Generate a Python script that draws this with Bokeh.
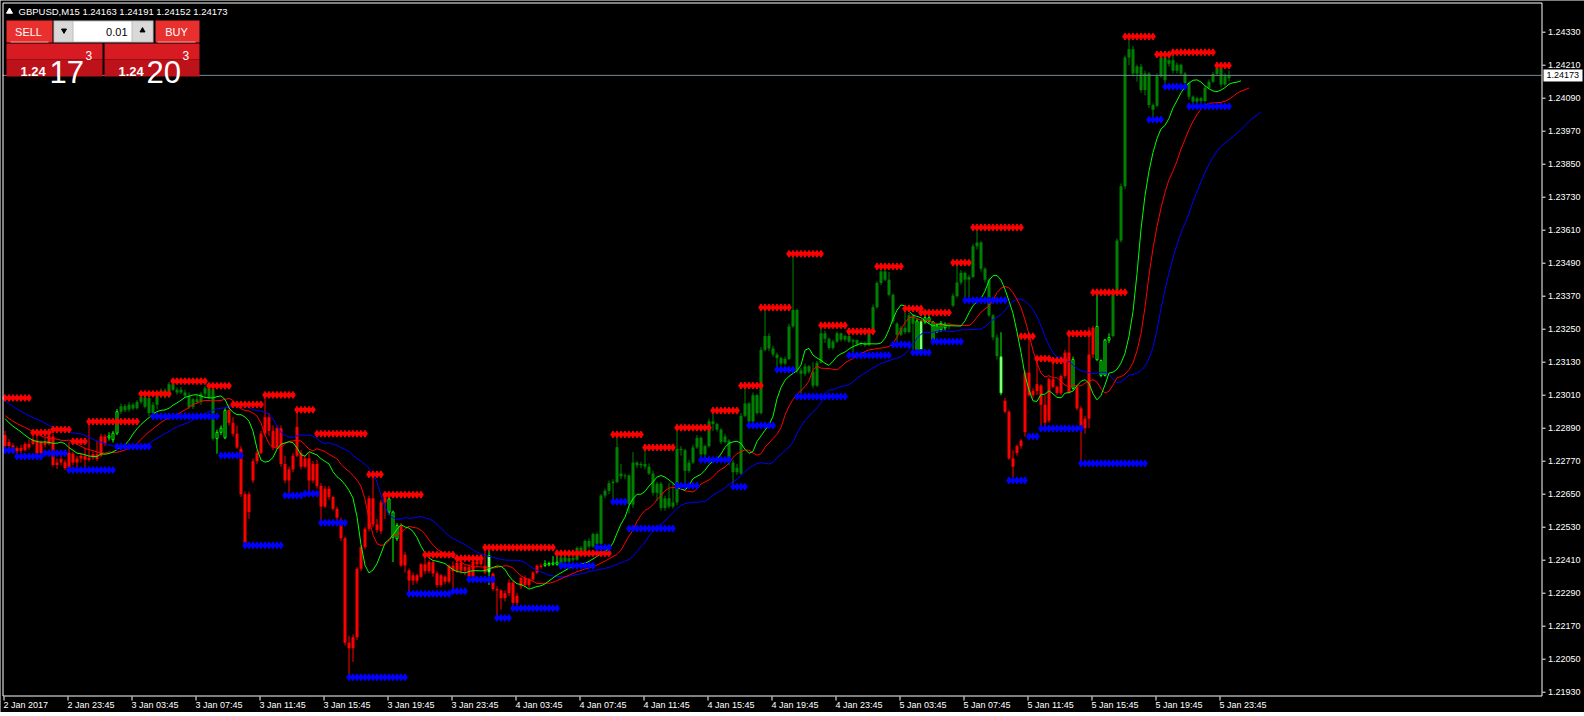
from bokeh.plotting import figure
from bokeh.models import Range1d, Label
from bokeh.core.properties import value
from bokeh.embed import file_html
from bokeh.resources import INLINE

# ---------------- data (prices in points above 1.20000) ----------------
BASE = 1.2
PT = 1e-5

opens = [
    2865, 2825, 2827, 2806, 2818, 2811, 2833, 2833, 2845, 2800,
    2839, 2833, 2860, 2756, 2765, 2766, 2745, 2797, 2765, 2780,
    2790, 2775, 2783, 2795, 2790, 2860, 2855, 2848, 2872, 2950,
    2970, 2958, 2975, 2963, 2985, 3003, 3000, 2945, 2975, 3008,
    3027, 3005, 3050, 3030, 3020, 3020, 3008, 2968, 2995, 2985,
    3015, 3035, 3032, 2852, 2875, 2855, 2955, 2910, 2870, 2815,
    2650, 2585, 2700, 2770, 2800, 2870, 2930, 2880, 2820, 2890,
    2760, 2700, 2740, 2790, 2800, 2750, 2780, 2700, 2760, 2680,
    2605, 2670, 2640, 2597, 2555, 2490, 2110, 2090, 2130, 2379,
    2458, 2524, 2635, 2540, 2515, 2620, 2585, 2494, 2488, 2536,
    2391, 2373, 2336, 2355, 2350, 2395, 2370, 2403, 2362, 2320,
    2350, 2332, 2390, 2370, 2400, 2372, 2385, 2350, 2405, 2395,
    2390, 2427, 2361, 2305, 2300, 2272, 2290, 2328, 2255, 2315,
    2345, 2320, 2340, 2365, 2390, 2391, 2393, 2395, 2395, 2395,
    2420, 2405, 2418, 2412, 2455, 2440, 2480, 2460, 2505, 2470,
    2645, 2662, 2690, 2694, 2725, 2715, 2718, 2612, 2765, 2755,
    2760, 2750, 2725, 2655, 2688, 2600, 2635, 2605, 2620, 2815,
    2810, 2735, 2765, 2820, 2855, 2795, 2825, 2915, 2905, 2885,
    2840, 2845, 2765, 2730, 2725, 2935, 2980, 2915, 3010, 2945,
    3175, 3225, 3180, 3158, 3145, 3125, 3142, 3260, 3320, 3100,
    3088, 3115, 3095, 3045, 3128, 3235, 3215, 3182, 3205, 3235,
    3212, 3225, 3205, 3210, 3195, 3200, 3192, 3235, 3330, 3418,
    3460, 3430, 3375, 3270, 3230, 3255, 3240, 3300, 3175, 3278,
    3276, 3280, 3209, 3240, 3248, 3255, 3260, 3336, 3370, 3420,
    3455, 3430, 3440, 3552, 3565, 3470, 3430, 3300, 3220, 3150,
    2990, 2950, 2780, 2800, 2825, 2876, 3092, 3010, 3025, 3045,
    2975, 2918, 3068, 3040, 3018, 3080, 3165, 3035, 3039, 2962,
    2890, 2925, 3158, 3139, 3082, 3082, 3210, 3225, 3378, 3573,
    3770, 4238, 4268, 4180, 4205, 4120, 4180, 4065, 4063, 4170,
    4238, 4215, 4228, 4190, 4212, 4180, 4145, 4095, 4078, 4090,
    4080, 4128, 4150, 4178, 4200, 4140, 4163,
]
highs = [
    2880, 2850, 2835, 2825, 2830, 2840, 2850, 2860, 2874, 2845,
    2855, 2885, 2870, 2780, 2790, 2775, 2840, 2805, 2790, 2800,
    2820, 2906, 2805, 2845, 2870, 2868, 2875, 2880, 2960, 2980,
    2978, 2985, 2982, 2992, 3012, 3010, 3010, 2985, 3015, 3035,
    3035, 3058, 3062, 3038, 3040, 3030, 3020, 3000, 3010, 3022,
    3044, 3040, 3040, 2885, 2900, 2965, 2976, 2930, 2900, 2825,
    2660, 2660, 2780, 2810, 2880, 3010, 2945, 2900, 2900, 2900,
    2790, 2750, 2800, 2957, 2810, 2790, 2800, 2770, 2775, 2690,
    2680, 2680, 2645, 2605, 2565, 2495, 2135, 2140, 2385, 2465,
    2530, 2645, 2722, 2560, 2630, 2650, 2640, 2590, 2545, 2545,
    2440, 2380, 2365, 2360, 2400, 2430, 2410, 2408, 2370, 2360,
    2355, 2395, 2405, 2417, 2405, 2390, 2395, 2412, 2415, 2425,
    2456, 2445, 2365, 2315, 2305, 2300, 2340, 2335, 2290, 2350,
    2355, 2345, 2370, 2395, 2398, 2410, 2405, 2425, 2435, 2428,
    2425, 2425, 2422, 2460, 2462, 2485, 2490, 2510, 2510, 2650,
    2670, 2700, 2705, 2867, 2760, 2725, 2722, 2803, 2770, 2768,
    2820, 2762, 2735, 2695, 2695, 2645, 2690, 2690, 2892, 2825,
    2815, 2775, 2830, 2865, 2860, 2830, 2925, 2954, 2910, 2890,
    2870, 2850, 2775, 2760, 2945, 3045, 2985, 3020, 3015, 3185,
    3329, 3235, 3190, 3165, 3150, 3150, 3270, 3524, 3325, 3110,
    3125, 3120, 3130, 3135, 3264, 3245, 3220, 3212, 3242, 3238,
    3230, 3242, 3215, 3212, 3205, 3205, 3240, 3340, 3425, 3478,
    3465, 3458, 3380, 3275, 3262, 3325, 3310, 3305, 3290, 3285,
    3310, 3300, 3280, 3270, 3280, 3275, 3270, 3380, 3492, 3465,
    3460, 3448, 3560, 3622, 3570, 3475, 3435, 3305, 3230, 3239,
    3000, 2955, 2810, 2830, 2850, 3100, 3224, 3035, 3143, 3050,
    3010, 3075, 3136, 3045, 3085, 3175, 3234, 3150, 3045, 2970,
    2935, 3257, 3262, 3384, 3140, 3215, 3235, 3385, 3580, 3780,
    4245, 4314, 4280, 4212, 4215, 4190, 4185, 4070, 4180, 4249,
    4245, 4240, 4257, 4220, 4215, 4185, 4150, 4100, 4095, 4095,
    4135, 4158, 4185, 4209, 4205, 4180, 4191,
]
lows = [
    2815, 2815, 2800, 2798, 2800, 2805, 2812, 2828, 2790, 2795,
    2820, 2828, 2750, 2742, 2755, 2738, 2735, 2755, 2748, 2765,
    2748, 2768, 2775, 2770, 2785, 2825, 2845, 2838, 2865, 2942,
    2948, 2950, 2955, 2958, 2978, 2962, 2935, 2940, 2960, 3000,
    2998, 3000, 3025, 3012, 3015, 3000, 2960, 2960, 2978, 2975,
    3005, 2995, 2845, 2797, 2865, 2850, 2900, 2860, 2815, 2640,
    2462, 2560, 2690, 2760, 2795, 2860, 2860, 2810, 2815, 2750,
    2690, 2645, 2730, 2785, 2740, 2745, 2652, 2690, 2670, 2548,
    2600, 2630, 2590, 2556, 2480, 2100, 1990, 2040, 2120, 2370,
    2450, 2515, 2530, 2510, 2505, 2560, 2575, 2403, 2480, 2385,
    2365, 2290, 2320, 2325, 2345, 2360, 2362, 2350, 2310, 2312,
    2322, 2325, 2297, 2365, 2360, 2355, 2340, 2345, 2385, 2390,
    2360, 2320, 2298, 2200, 2230, 2260, 2280, 2235, 2245, 2305,
    2312, 2310, 2335, 2360, 2380, 2385, 2388, 2390, 2390, 2390,
    2398, 2400, 2405, 2408, 2435, 2436, 2452, 2455, 2456, 2465,
    2635, 2650, 2623, 2690, 2705, 2705, 2580, 2600, 2745, 2745,
    2740, 2720, 2645, 2625, 2590, 2590, 2598, 2598, 2610, 2790,
    2681, 2728, 2760, 2815, 2775, 2785, 2820, 2880, 2878, 2832,
    2835, 2755, 2680, 2720, 2720, 2930, 2900, 2910, 2940, 2940,
    3170, 3170, 3150, 3103, 3118, 3120, 3138, 3255, 3090, 3005,
    3080, 3088, 3035, 3040, 3125, 3200, 3175, 3175, 3200, 3205,
    3205, 3200, 3158, 3188, 3188, 3185, 3188, 3230, 3325, 3410,
    3425, 3370, 3270, 3194, 3225, 3232, 3235, 3165, 3168, 3170,
    3270, 3270, 3205, 3238, 3240, 3245, 3250, 3330, 3365, 3412,
    3355, 3365, 3435, 3540, 3460, 3420, 3295, 3210, 3140, 3010,
    2945, 2775, 2700, 2790, 2815, 2860, 3005, 2998, 3010, 2889,
    2895, 2910, 3035, 3010, 3010, 3070, 3015, 3030, 2955, 2762,
    2870, 2890, 3145, 3135, 3075, 3078, 3200, 3220, 3370, 3565,
    3760, 4210, 4170, 4150, 4110, 4100, 4055, 4012, 4058, 4165,
    4132, 4205, 4180, 4180, 4175, 4140, 4085, 4060, 4068, 4072,
    4075, 4125, 4145, 4170, 4130, 4135, 4152,
]
closes = [
    2825, 2840, 2806, 2818, 2808, 2833, 2820, 2848, 2797, 2839,
    2830, 2863, 2756, 2765, 2778, 2745, 2800, 2765, 2780, 2790,
    2775, 2783, 2795, 2778, 2860, 2835, 2862, 2872, 2950, 2970,
    2955, 2975, 2962, 2985, 3003, 2968, 2945, 2975, 3008, 3027,
    3005, 3050, 3030, 3020, 3030, 3008, 2968, 2995, 2985, 3015,
    3035, 3000, 2852, 2875, 2890, 2955, 2910, 2870, 2820, 2650,
    2470, 2650, 2770, 2800, 2870, 2930, 2880, 2820, 2890, 2760,
    2700, 2740, 2790, 2895, 2750, 2780, 2700, 2760, 2680, 2605,
    2670, 2640, 2597, 2565, 2490, 2110, 2090, 2130, 2379, 2458,
    2524, 2635, 2540, 2520, 2620, 2645, 2633, 2585, 2536, 2391,
    2430, 2336, 2355, 2335, 2395, 2370, 2403, 2362, 2320, 2355,
    2332, 2390, 2370, 2400, 2372, 2385, 2350, 2405, 2395, 2420,
    2365, 2367, 2305, 2300, 2272, 2290, 2328, 2255, 2280, 2345,
    2320, 2340, 2365, 2390, 2385, 2397, 2398, 2400, 2403, 2420,
    2405, 2418, 2412, 2455, 2440, 2480, 2460, 2505, 2470, 2645,
    2662, 2690, 2695, 2821, 2715, 2718, 2615, 2765, 2755, 2760,
    2750, 2725, 2655, 2688, 2600, 2635, 2605, 2620, 2815, 2810,
    2735, 2765, 2820, 2855, 2795, 2825, 2915, 2905, 2885, 2840,
    2860, 2765, 2730, 2745, 2935, 2980, 2915, 3010, 2945, 3175,
    3225, 3180, 3158, 3145, 3125, 3142, 3260, 3320, 3100, 3088,
    3115, 3095, 3045, 3128, 3235, 3215, 3182, 3205, 3235, 3212,
    3225, 3205, 3210, 3195, 3200, 3192, 3235, 3330, 3418, 3460,
    3430, 3375, 3278, 3230, 3255, 3240, 3300, 3270, 3280, 3175,
    3292, 3292, 3276, 3262, 3268, 3265, 3263, 3372, 3420, 3455,
    3430, 3440, 3552, 3565, 3470, 3430, 3300, 3220, 3152, 3018,
    2950, 2780, 2750, 2825, 2845, 3092, 3010, 3025, 3050, 2975,
    2910, 3068, 3040, 3018, 3080, 3165, 3020, 3140, 2962, 2890,
    2925, 3158, 3255, 3260, 3136, 3211, 3220, 3378, 3573, 3770,
    4238, 4268, 4180, 4205, 4120, 4180, 4065, 4048, 4170, 4238,
    4155, 4228, 4190, 4212, 4180, 4145, 4095, 4078, 4090, 4080,
    4128, 4150, 4178, 4200, 4140, 4170, 4173,
]

# bar painting: r = red trend, g = green trend, l = lime (bull) candle, w = white (bear) candle
style_start = [0, 26, 29, 53, 56, 96, 99, 121, 122, 135, 139, 228, 229, 230, 236, 249, 250, 267, 268, 273, 277]
style_end   = [25, 28, 52, 55, 95, 98, 120, 121, 134, 138, 227, 228, 229, 235, 248, 249, 266, 267, 272, 276, 306]
style_code  = ["r", "l", "g", "l", "r", "l", "r", "w", "r", "l", "g", "l", "w", "l", "g", "w", "r", "l", "r", "l", "g"]

# fractal resistance (red) and support (blue) levels: first bar, end bar, level
res_start = [0, 7, 12, 17, 21, 34, 42, 51, 57, 65, 73, 78, 91, 95, 105, 113, 120, 138, 152, 160,
             168, 177, 184, 189, 196, 204, 211, 218, 225, 229, 237, 242, 254, 258, 262, 266, 272, 280, 288, 292, 303]
res_end   = [7, 12, 17, 21, 34, 42, 51, 57, 65, 73, 78, 91, 95, 105, 113, 120, 138, 152, 160, 168,
             177, 184, 190, 197, 205, 211, 218, 225, 230, 237, 242, 255, 258, 262, 266, 272, 281, 288, 292, 303, 307]
res_level = [3000, 2874, 2885, 2842, 2914, 3015, 3061, 3044, 2976, 3011, 2957, 2870, 2722, 2648, 2430, 2417,
             2456, 2435, 2867, 2820, 2892, 2954, 3045, 3329, 3524, 3264, 3242, 3478, 3325, 3310, 3492, 3620,
             3224, 3143, 3136, 3234, 3384, 4314, 4249, 4257, 4209]
sup_start = [0, 3, 10, 16, 28, 37, 54, 60, 70, 75, 79, 86, 101, 112, 116, 123, 127, 139, 148, 152,
             156, 168, 174, 182, 186, 193, 198, 211, 222, 227, 232, 240, 251, 256, 259, 269, 286, 290, 296]
sup_end   = [3, 10, 16, 28, 37, 54, 60, 70, 75, 79, 86, 101, 112, 116, 123, 127, 139, 148, 152, 156,
             168, 174, 182, 186, 193, 198, 211, 222, 227, 232, 240, 251, 256, 259, 270, 286, 290, 296, 307]
sup_level = [2809, 2787, 2799, 2738, 2823, 2933, 2791, 2464, 2645, 2652, 2546, 1984, 2288, 2297, 2340, 2200,
             2235, 2390, 2456, 2623, 2525, 2681, 2775, 2677, 2900, 3103, 3005, 3155, 3194, 3165, 3205, 3355,
             2700, 2860, 2889, 2762, 4012, 4132, 4060]

# Alligator: (name, SMMA period, shift, colour, starting value in points)
alligator = [("jaw", 13, 8, "#0000FF", 2990), ("teeth", 8, 5, "#FF0000", 2936), ("lips", 5, 3, "#00FF00", 2925)]

time_labels = ["2 Jan 2017", "2 Jan 23:45", "3 Jan 03:45", "3 Jan 07:45", "3 Jan 11:45", "3 Jan 15:45",
               "3 Jan 19:45", "3 Jan 23:45", "4 Jan 03:45", "4 Jan 07:45", "4 Jan 11:45", "4 Jan 15:45",
               "4 Jan 19:45", "4 Jan 23:45", "5 Jan 03:45", "5 Jan 07:45", "5 Jan 11:45", "5 Jan 15:45",
               "5 Jan 19:45", "5 Jan 23:45"]
LABEL_STEP = 16
price_ticks = [round(1.21930 + 0.0012 * k, 5) for k in range(21)]
last_price = 1.24173
header_text = "GBPUSD,M15  1.24163 1.24191 1.24152 1.24173"

# ---------------- layout (one frame covering the whole canvas, page px coordinates) ----------------
FIG_W, FIG_H = 1584, 712
BAR0_PX = 3                       # page px of the first bar slot
PX_PER_BAR = 4
REF_PRICE, REF_PY = 1.24330, 31.7  # price scale anchor
K = 0.0012 / 33.0                 # price per pixel
CHART_L, CHART_T, CHART_R, CHART_B = 2, 2, 1541, 695


def px_x(px):
    return (px - BAR0_PX) / PX_PER_BAR


def px_y(py):
    return REF_PRICE + (REF_PY - py) * K


def pr(v):
    return BASE + v * PT


FONT = "Liberation Sans"

p = figure(frame_width=FIG_W, frame_height=FIG_H, output_backend="svg", toolbar_location=None,
           x_range=Range1d(px_x(0), px_x(FIG_W)), y_range=Range1d(px_y(FIG_H), px_y(0)),
           x_axis_location=None, y_axis_location=None,
           min_border_left=0, min_border_top=0, min_border_right=0, min_border_bottom=0,
           background_fill_color="#000000", border_fill_color="#000000", outline_line_color=None)
p.grid.visible = False

# ---------------- candles ----------------
N = len(closes)
styles = [""] * N
for s, e, c in zip(style_start, style_end, style_code):
    for i in range(s, e + 1):
        styles[i] = c

FILL = {"r": "#FF0000", "g": "#008000", "l": "#000000", "w": "#FFFFFF"}
EDGE = {"r": "#FF0000", "g": "#008000", "l": "#00FF00", "w": "#00FF00"}
MINH = 0.00003

xc = [i + 0.375 for i in range(N)]
wick = {"x": [], "lo": [], "hi": [], "c": []}
solid = {"x": [], "top": [], "bot": [], "c": []}
hollow = {"x": [], "top": [], "bot": [], "c": [], "e": []}
for i in range(N):
    o, h, l, c = pr(opens[i]), pr(highs[i]), pr(lows[i]), pr(closes[i])
    st = styles[i]
    wick["x"].append(xc[i]); wick["lo"].append(l); wick["hi"].append(h); wick["c"].append(EDGE[st])
    top, bot = max(o, c), min(o, c)
    if top - bot < MINH:
        top = bot + MINH
    if st in ("r", "g"):
        solid["x"].append(xc[i]); solid["top"].append(top); solid["bot"].append(bot); solid["c"].append(FILL[st])
    else:
        hollow["x"].append(xc[i]); hollow["top"].append(top); hollow["bot"].append(bot)
        hollow["c"].append(FILL[st]); hollow["e"].append(EDGE[st])

p.segment(x0=wick["x"], y0=wick["lo"], x1=wick["x"], y1=wick["hi"], line_color=wick["c"], line_width=1)
p.vbar(x=solid["x"], width=0.75, top=solid["top"], bottom=solid["bot"], fill_color=solid["c"], line_color=None)
p.vbar(x=hollow["x"], width=0.5, top=hollow["top"], bottom=hollow["bot"], fill_color=hollow["c"],
       line_color=hollow["e"], line_width=1)

# ---------------- Alligator (SMMA of median price, shifted forward) ----------------
median = [(pr(highs[i]) + pr(lows[i])) / 2 for i in range(N)]
for name, n, shift, col, start in alligator:
    s = pr(start)
    xs, ys = [], []
    for j in range(N + shift):
        k = max(j - shift, 0)
        if j > 0:
            s = (s * (n - 1) + median[k]) / n
        xs.append(j + 0.375)
        ys.append(s)
    p.line(xs, ys, line_color=col, line_width=1)

# ---------------- fractal support / resistance diamonds ----------------
for starts, ends, levels, col in ((res_start, res_end, res_level, "#FF0000"),
                                  (sup_start, sup_end, sup_level, "#0000FF")):
    dx, dy = [], []
    for s, e, lv in zip(starts, ends, levels):
        for i in range(s, e):
            dx.append(i + 0.375)
            dy.append(pr(lv))
    p.scatter(dx, dy, marker="diamond", size=7, fill_color=col, line_color=col)

# ---------------- current price line ----------------
p.segment(x0=[px_x(CHART_L)], y0=[last_price], x1=[px_x(CHART_R)], y1=[last_price],
          line_color="#778899", line_width=1)

# ---------------- chart frame, axes, ticks and labels ----------------
fx0, fx1 = px_x(CHART_L + 0.5), px_x(CHART_R + 0.5)
fy0, fy1 = px_y(CHART_T + 0.5), px_y(CHART_B + 0.5)
p.segment(x0=[fx0, fx0, fx0, fx1], y0=[fy0, fy0, fy1, fy0], x1=[fx1, fx0, fx1, fx1], y1=[fy0, fy1, fy1, fy1],
          line_color="#FFFFFF", line_width=1)

# time axis (labels start at their tick, MT4 style)
tx = [LABEL_STEP * k + 0.125 for k in range(len(time_labels))]
p.segment(x0=tx, y0=[px_y(CHART_B + 1)] * len(tx), x1=tx, y1=[px_y(CHART_B + 5)] * len(tx),
          line_color="#FFFFFF", line_width=1)
p.text(x=[LABEL_STEP * k for k in range(len(time_labels))], y=[px_y(CHART_B + 9.5)] * len(tx), text=time_labels,
       text_color="#FFFFFF", text_font=value(FONT), text_font_size=value("9px"),
       text_align="left", text_baseline="middle")

# price axis
p.segment(x0=[px_x(CHART_R + 1)] * len(price_ticks), y0=price_ticks, x1=[px_x(CHART_R + 4)] * len(price_ticks),
          y1=price_ticks, line_color="#FFFFFF", line_width=1)
p.text(x=[px_x(CHART_R + 6.5)] * len(price_ticks), y=price_ticks, text=[f"{t:.5f}" for t in price_ticks],
       text_color="#FFFFFF", text_font=value(FONT), text_font_size=value("9px"),
       text_align="left", text_baseline="middle")

# current price tag
p.quad(left=[px_x(CHART_R + 2)], right=[px_x(CHART_R + 41)], top=[last_price + 6 * K],
       bottom=[last_price - 6 * K], fill_color="#FFFFFF", line_color=None)
p.text(x=[px_x(CHART_R + 5)], y=[last_price], text=[f"{last_price:.5f}"], text_color="#000000",
       text_font=value(FONT), text_font_size=value("9px"), text_align="left", text_baseline="middle")

# ---------------- header and one-click trading panel ----------------
p.scatter([px_x(9)], [px_y(11)], marker="triangle", size=6, fill_color="#FFFFFF", line_color="#FFFFFF")
p.add_layout(Label(x=px_x(18), y=px_y(10.5), text=header_text, text_color="#FFFFFF", text_font=FONT,
                   text_font_size="9.5px", text_baseline="middle"))

boxes = [  # left, top, right, bottom (page px), colour
    (6, 20, 52, 42, "#E8302F"),
    (53, 20, 153, 42, "#BDBDBD"),
    (54, 21, 72, 41, "#D9D9D9"),
    (73, 21, 131, 41, "#FFFFFF"),
    (132, 21, 152, 41, "#D9D9D9"),
    (155, 20, 199, 42, "#E8302F"),
    (6, 43, 102, 59, "#D81B22"),
    (6, 59, 102, 76, "#BE121A"),
    (104, 43, 199, 59, "#D81B22"),
    (104, 59, 199, 76, "#BE121A"),
    (10, 41, 48, 42, "#F2A0A0"),
    (157, 41, 195, 42, "#F2A0A0"),
]
p.quad(left=[px_x(b[0]) for b in boxes], right=[px_x(b[2]) for b in boxes],
       top=[px_y(b[1]) for b in boxes], bottom=[px_y(b[3]) for b in boxes],
       fill_color=[b[4] for b in boxes], line_color=None)
p.scatter([px_x(63.5)], [px_y(30)], marker="inverted_triangle", size=5, fill_color="#000000", line_color="#000000")
p.scatter([px_x(142)], [px_y(30)], marker="triangle", size=5, fill_color="#000000", line_color="#000000")

texts = [  # text, page x, page y, size, colour, align, baseline, bold
    ("SELL", 28, 31, "11px", "#FFFFFF", "center", "middle", False),
    ("BUY", 176, 31, "11px", "#FFFFFF", "center", "middle", False),
    ("0.01", 127, 31, "11px", "#000000", "right", "middle", False),
    ("1.24", 20, 71, "13px", "#FFFFFF", "left", "alphabetic", True),
    ("17", 49, 71, "31px", "#FFFFFF", "left", "alphabetic", False),
    ("3", 85, 55, "12px", "#FFFFFF", "left", "alphabetic", False),
    ("1.24", 118, 71, "13px", "#FFFFFF", "left", "alphabetic", True),
    ("20", 146, 71, "31px", "#FFFFFF", "left", "alphabetic", False),
    ("3", 182, 55, "12px", "#FFFFFF", "left", "alphabetic", False),
]
for t, x, y, sz, col, al, bl, bold in texts:
    p.add_layout(Label(x=px_x(x), y=px_y(y), text=t, text_color=col, text_font=FONT, text_font_size=sz,
                       text_align=al, text_baseline=bl, text_font_style="bold" if bold else "normal"))

open("out.html", "w").write(file_html(p, INLINE))
